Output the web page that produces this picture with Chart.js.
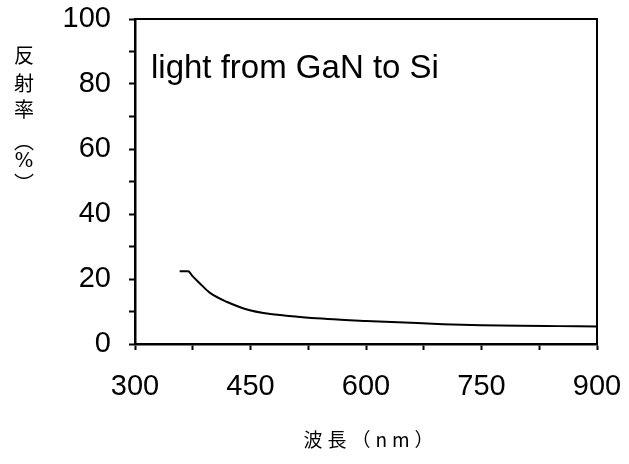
<!DOCTYPE html>
<html><head><meta charset="utf-8">
<script src="https://cdn.jsdelivr.net/npm/chart.js@4"></script>
<style>html,body{margin:0;padding:0;background:#fff}#wrap{width:629px;height:464px}</style>
</head><body><div id="wrap"><canvas id="c" width="629" height="464"></canvas></div>
<script>
const wavelengths = [358, 369, 375, 384, 397, 419, 449, 500, 550, 600, 650, 700, 750, 800, 850, 900];
const reflectance = [22.4, 22.4, 20.8, 18.7, 15.8, 13.0, 10.4, 8.6, 7.7, 7.1, 6.6, 6.1, 5.8, 5.6, 5.5, 5.4];
const xTickLabels = [300, 450, 600, 750, 900];
const yTickLabels = [0, 20, 40, 60, 80, 100];
const annotationText = 'light from GaN to Si';
const yTitleChars = ['反', '射', '率', '︵', '%', '︶'];
const xTitleText = '波長（nm）';

const decor = {
  id: 'decor',
  afterDraw(chart) {
    const ctx = chart.ctx, a = chart.chartArea;
    ctx.save();
    ctx.strokeStyle = '#000';
    ctx.lineWidth = 2;
    ctx.beginPath();
    ctx.moveTo(a.left, a.top); ctx.lineTo(a.right, a.top); ctx.lineTo(a.right, a.bottom);
    ctx.stroke();
    ctx.fillStyle = '#000';
    ctx.font = '33px "Liberation Sans", Arial, sans-serif';
    ctx.textBaseline = 'alphabetic';
    ctx.textAlign = 'left';
    ctx.fillText(annotationText, 151, 78);
    ctx.textAlign = 'center';
    ctx.textBaseline = 'middle';
    const ys = [55, 83, 109, 141, 162, 183];
    yTitleChars.forEach((ch, i) => {
      if (ch === '%') { ctx.font = '20px "DejaVu Serif", serif'; }
      else { ctx.font = '20px "Noto Sans CJK JP", serif'; }
      ctx.fillText(ch, 24, ys[i]);
    });
    ctx.font = '19px "Noto Sans CJK JP", serif';
    ctx.letterSpacing = '5px';
    ctx.fillText(xTitleText, 371, 440);
    ctx.restore();
  }
};

new Chart(document.getElementById('c'), {
  type: 'line',
  data: {
    datasets: [{
      data: wavelengths.map((w, i) => ({x: w, y: reflectance[i]})),
      borderColor: '#000',
      borderWidth: 2,
      pointRadius: 0,
      cubicInterpolationMode: 'monotone',
      fill: false
    }]
  },
  options: {
    responsive: false,
    animation: false,
    layout: {padding: {left: 0, top: 19, right: 32, bottom: 0}},
    plugins: {legend: {display: false}, tooltip: {enabled: false}},
    scales: {
      x: {
        type: 'linear', min: 300, max: 900,
        afterFit(s) { s.height = 120; s.paddingLeft = 0; s.paddingRight = 0; },
        afterBuildTicks(s) { s.ticks = []; for (let v = 300; v <= 900; v += 75) s.ticks.push({value: v}); },
        ticks: {
          color: '#000', padding: 20,
          font: {family: '"Liberation Sans", Arial, sans-serif', size: 29},
          maxRotation: 0, autoSkip: false,
          callback: v => xTickLabels.includes(v) ? String(v) : ''
        },
        grid: {drawOnChartArea: false, tickLength: 6, tickColor: '#000', tickWidth: 2},
        border: {display: true, color: '#000', width: 2.5}
      },
      y: {
        min: 0, max: 100,
        afterFit(s) { s.width = 135; s.paddingTop = 0; s.paddingBottom = 0; },
        afterBuildTicks(s) { s.ticks = []; for (let v = 0; v <= 100; v += 10) s.ticks.push({value: v}); },
        ticks: {
          color: '#000', padding: 18,
          font: {family: '"Liberation Sans", Arial, sans-serif', size: 29},
          autoSkip: false,
          callback: v => yTickLabels.includes(v) ? String(v) : ''
        },
        grid: {drawOnChartArea: false, tickLength: 6, tickColor: '#000', tickWidth: 2},
        border: {display: true, color: '#000', width: 2.5}
      }
    }
  },
  plugins: [decor]
});
</script></body></html>
